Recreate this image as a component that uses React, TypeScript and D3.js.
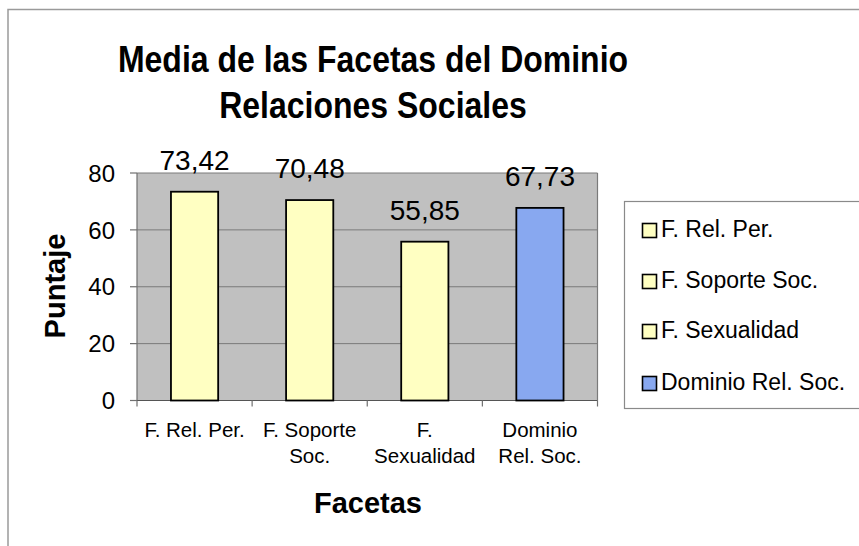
import React from "react";
import * as d3 from "d3";

const categories = ["F. Rel. Per.", "F. Soporte Soc.", "F. Sexualidad", "Dominio Rel. Soc."];
const categoryLabelLines = [["F. Rel. Per."], ["F. Soporte", "Soc."], ["F.", "Sexualidad"], ["Dominio", "Rel. Soc."]];
const values = [73.42, 70.48, 55.85, 67.73];
const barColors = ["#FFFFC2", "#FFFFC2", "#FFFFC2", "#88A8F0"];
const yTicks = [0, 20, 40, 60, 80];
const titleLines = ["Media de las Facetas del Dominio", "Relaciones Sociales"];
const xTitle = "Facetas";
const yTitle = "Puntaje";

const W = 859;
const H = 546;
const FONT = "'Liberation Sans', Arial, Helvetica, sans-serif";

export default function App() {
  const plot = { left: 137, right: 597.5, top: 173, bottom: 400.5 };
  const x = d3.scaleBand<string>().domain(categories).range([plot.left, plot.right]).paddingInner(0.59).paddingOuter(0.295);
  const xCat = d3.scaleBand<string>().domain(categories).range([plot.left, plot.right]).padding(0);
  const y = d3.scaleLinear().domain([0, 80]).range([plot.bottom, plot.top]);
  const fmt = (v: number) => d3.format(".2f")(v).replace(".", ",");

  const legend = { x: 624.5, y: 201.5, w: 260, h: 207 };
  const legendRowBase = [237, 288, 338, 390];

  return (
    <svg width={W} height={H} style={{ position: "absolute", left: 0, top: 0, display: "block", background: "#fff" }} fontFamily={FONT}>
      <rect x={0} y={0} width={W} height={H} fill="#fff" />
      {/* outer border */}
      <rect x={8} y={9.5} width={W + 40} height={H + 40} fill="none" stroke="#9a9a9a" strokeWidth={1.5} />

      {/* title */}
      {titleLines.map((t, i) => (
        <text
          key={i}
          transform={`translate(373,${72 + i * 46}) scale(1,1.18)`}
          textAnchor="middle"
          fontSize={32}
          fontWeight="bold"
          fill="#000"
        >
          {t}
        </text>
      ))}

      {/* plot background */}
      <rect x={plot.left} y={plot.top} width={plot.right - plot.left} height={plot.bottom - plot.top} fill="#C0C0C0" />
      {/* gridlines */}
      {yTicks.map((t) => (
        <line key={t} x1={plot.left} x2={plot.right} y1={y(t)} y2={y(t)} stroke="#7a7a7a" strokeWidth={1} />
      ))}
      {/* right border */}
      <line x1={plot.right} x2={plot.right} y1={plot.top} y2={plot.bottom} stroke="#7a7a7a" strokeWidth={1.2} />

      {/* y axis */}
      <line x1={plot.left} x2={plot.left} y1={plot.top} y2={plot.bottom} stroke="#707070" strokeWidth={1.2} />
      {yTicks.map((t) => (
        <g key={t}>
          <line x1={plot.left - 7} x2={plot.left} y1={y(t)} y2={y(t)} stroke="#707070" strokeWidth={1.2} />
          <text x={115} y={y(t)} dy="0.36em" textAnchor="end" fontSize={24} fill="#000">
            {t}
          </text>
        </g>
      ))}

      {/* x axis */}
      <line x1={plot.left} x2={plot.right} y1={plot.bottom} y2={plot.bottom} stroke="#555" strokeWidth={1.2} />
      {categories.map((c) => (
        <line key={c} x1={xCat(c)!} x2={xCat(c)!} y1={plot.bottom} y2={plot.bottom + 6} stroke="#707070" strokeWidth={1.2} />
      ))}
      <line x1={plot.right} x2={plot.right} y1={plot.bottom} y2={plot.bottom + 6} stroke="#707070" strokeWidth={1.2} />

      {/* bars */}
      {categories.map((c, i) => (
        <g key={c}>
          <rect
            x={x(c)!}
            y={y(values[i])}
            width={x.bandwidth()}
            height={plot.bottom - y(values[i])}
            fill={barColors[i]}
            stroke="#000"
            strokeWidth={1.8}
          />
          <text x={x(c)! + x.bandwidth() / 2} y={y(values[i]) - 22} textAnchor="middle" fontSize={28} fill="#000">
            {fmt(values[i])}
          </text>
        </g>
      ))}

      {/* x category labels */}
      {categories.map((c, i) => (
        <text key={c} textAnchor="middle" fontSize={20.5} fill="#000">
          {categoryLabelLines[i].map((line, j) => (
            <tspan key={j} x={xCat(c)! + xCat.bandwidth() / 2} y={437 + j * 26}>
              {line}
            </tspan>
          ))}
        </text>
      ))}

      {/* axis titles */}
      <text x={368} y={513} textAnchor="middle" fontSize={29} fontWeight="bold" fill="#000">
        {xTitle}
      </text>
      <text transform={`translate(65,286) rotate(-90)`} textAnchor="middle" fontSize={29} fontWeight="bold" fill="#000">
        {yTitle}
      </text>

      {/* legend */}
      <rect x={legend.x} y={legend.y} width={legend.w} height={legend.h} fill="#fff" stroke="#8a8a8a" strokeWidth={1.2} />
      {categories.map((c, i) => (
        <g key={c}>
          <rect x={642.5} y={legendRowBase[i] - 13.5} width={14} height={14} fill={barColors[i]} stroke="#000" strokeWidth={1.6} />
          <text x={661} y={legendRowBase[i]} fontSize={23} fill="#000">
            {c}
          </text>
        </g>
      ))}
    </svg>
  );
}
